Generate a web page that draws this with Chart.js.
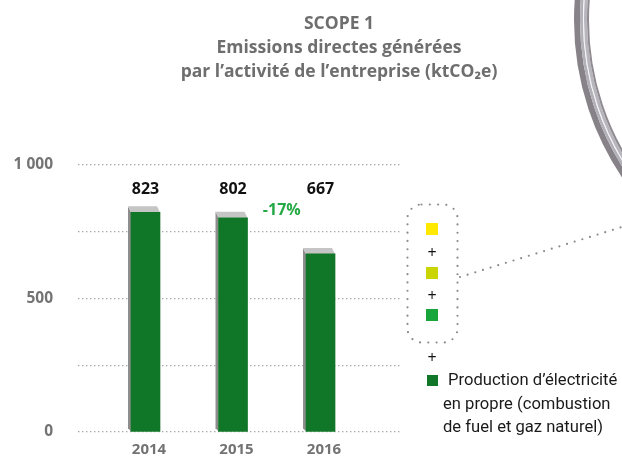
<!DOCTYPE html>
<html>
<head>
<meta charset="utf-8">
<script src="https://cdn.jsdelivr.net/npm/chart.js@4/dist/chart.umd.min.js"></script>
<style>
  html, body { margin: 0; padding: 0; background: #fff; overflow: hidden; }
  #wrap { width: 622px; height: 457px; position: relative; }
  canvas { display: block; }
</style>
</head>
<body>
<div id="wrap"><canvas id="scopeChart" width="622" height="457"></canvas></div>
<script>
// data
const years = ["2014", "2015", "2016"];
const emissions = [823, 802, 667];
const yTickValues = [0, 500, 1000];
const yTickLabels = ["0", "500", "1 000"];
const variationText = "-17%";
const titleLines = ["SCOPE 1", "Emissions directes générées", "par l’activité de l’entreprise (ktCO₂e)"];
const legendColors = ["#FFE900", "#C9D400", "#18A53B"];
const mainColor = "#107628";
const mainLegend = ["Production d’électricité", "en propre (combustion", "de fuel et gaz naturel)"];

const FONT = "'Open Sans', 'DejaVu Sans', sans-serif";
const NARROW = "'Liberation Sans Narrow', 'Roboto', sans-serif";

// side + top faces of the bars (drawn behind them)
const barDepth = {
  id: "barDepth",
  beforeDatasetsDraw(chart) {
    const ctx = chart.ctx;
    const meta = chart.getDatasetMeta(0);
    ctx.save();
    meta.data.forEach((bar) => {
      const l = bar.x - bar.width / 2, r = bar.x + bar.width / 2;
      const t = bar.y, b = bar.base;
      ctx.fillStyle = "#8d8d8d";
      ctx.beginPath();
      ctx.moveTo(l, t); ctx.lineTo(l - 3, t - 6); ctx.lineTo(l - 3, b - 3); ctx.lineTo(l, b);
      ctx.closePath(); ctx.fill();
      ctx.fillStyle = "#c5c5c5";
      ctx.beginPath();
      ctx.moveTo(l, t); ctx.lineTo(l - 3, t - 6); ctx.lineTo(r - 3, t - 6); ctx.lineTo(r, t);
      ctx.closePath(); ctx.fill();
    });
    ctx.restore();
  }
};

// title, value labels, legend and the callout
const decorations = {
  id: "decorations",
  afterDraw(chart) {
    const ctx = chart.ctx;
    const area = chart.chartArea;
    const meta = chart.getDatasetMeta(0);
    ctx.save();

    // title
    ctx.fillStyle = "#6e6e6e";
    ctx.font = "bold 17.5px " + FONT;
    ctx.textAlign = "center";
    ctx.textBaseline = "alphabetic";
    titleLines.forEach((line, i) => {
      ctx.fillText(line, 339, 29 + i * 24);
    });

    // values above bars
    ctx.fillStyle = "#111";
    ctx.font = "bold 16px " + FONT;
    ctx.textBaseline = "middle";
    meta.data.forEach((bar, i) => {
      ctx.fillText(String(emissions[i]), bar.x, area.top + 24);
    });
    ctx.fillStyle = "#27a846";
    const p1 = meta.data[1], p2 = meta.data[2];
    ctx.fillText(variationText, (p1.x + p2.x) / 2 + 5, area.top + 45);

    // magnifier ring
    const cx = 856, cy = 20;
    const ring = [[279, 6, "#878288"], [274.5, 3, "#b3b1b8"], [272.5, 1.2, "#f4f4f6"], [270.5, 3, "#b8b6bd"], [268, 2, "#8f8b91"]];
    ring.forEach(([rad, w, col]) => {
      ctx.beginPath();
      ctx.strokeStyle = col;
      ctx.lineWidth = w;
      ctx.arc(cx, cy, rad, Math.PI * 0.8, Math.PI * 1.2);
      ctx.stroke();
    });

    // dotted legend frame and callout
    ctx.strokeStyle = "#8c8c8c";
    ctx.lineWidth = 2.2;
    ctx.lineCap = "round";
    ctx.setLineDash([0, 8.3]);
    ctx.beginPath();
    ctx.roundRect(407.5, 204.5, 50, 138, 14);
    ctx.stroke();
    ctx.setLineDash([0, 8]);
    ctx.beginPath();
    ctx.moveTo(460, 277);
    ctx.lineTo(622, 227);
    ctx.stroke();
    ctx.setLineDash([]);

    // legend squares and plus signs
    const sqY = [223, 267, 309];
    legendColors.forEach((c, i) => {
      ctx.fillStyle = c;
      ctx.fillRect(426, sqY[i], 12, 12);
    });
    ctx.fillStyle = mainColor;
    ctx.fillRect(427, 375, 11, 11);
    ctx.fillStyle = "#111";
    ctx.font = "16px " + FONT;
    ctx.textAlign = "center";
    [253, 296, 358].forEach((y) => ctx.fillText("+", 432, y));

    ctx.font = "16.6px " + NARROW;
    ctx.textAlign = "left";
    ctx.fillStyle = "#1a1a1a";
    ctx.fillText(mainLegend[0], 448, 381);
    ctx.fillText(mainLegend[1], 443, 405);
    ctx.fillText(mainLegend[2], 443, 428);

    ctx.restore();
  }
};

const ctx = document.getElementById("scopeChart").getContext("2d");
const chart = new Chart(ctx, {
  type: "bar",
  data: {
    datasets: [
      {
        data: emissions.map((v, i) => ({ x: i, y: v })),
        backgroundColor: mainColor,
        borderWidth: 0,
        barThickness: 29,
      },
    ],
  },
  options: {
    responsive: false,
    animation: false,
    layout: { padding: { top: 165, right: 220, left: 0, bottom: 0 } },
    plugins: { legend: { display: false }, tooltip: { enabled: false }, title: { display: false } },
    scales: {
      x: {
        type: "linear",
        offset: false,
        min: -0.7714,
        max: 2.931,
        afterBuildTicks: (scale) => { scale.ticks = years.map((y, i) => ({ value: i })); },
        afterFit: (scale) => { scale.height = 25; scale.paddingLeft = 0; scale.paddingRight = 0; },
        grid: { display: false, offset: false },
        border: { display: false },
        ticks: {
          callback: (v) => years[v],
          color: "#737373",
          font: { family: FONT, size: 15, weight: "bold" },
          padding: 1,
          labelOffset: 3.5,
          maxRotation: 0,
        },
      },
      y: {
        min: 0,
        max: 1000,
        afterBuildTicks: (scale) => { scale.ticks = [0, 250, 500, 750, 1000].map((v) => ({ value: v })); },
        afterFit: (scale) => { scale.width = 78; scale.paddingTop = 0; scale.paddingBottom = 0; },
        grid: { color: "#a6a6a6", lineWidth: 1.3, drawTicks: false },
        border: { display: false, dash: [1.4, 2.6] },
        ticks: {
          callback: (v) => {
            const k = yTickValues.indexOf(v);
            return k >= 0 ? yTickLabels[k] : "";
          },
          color: "#737373",
          font: { family: FONT, size: 15.5, weight: "bold" },
          padding: 25,
        },
      },
    },
  },
  plugins: [barDepth, decorations],
});
</script>
</body>
</html>
